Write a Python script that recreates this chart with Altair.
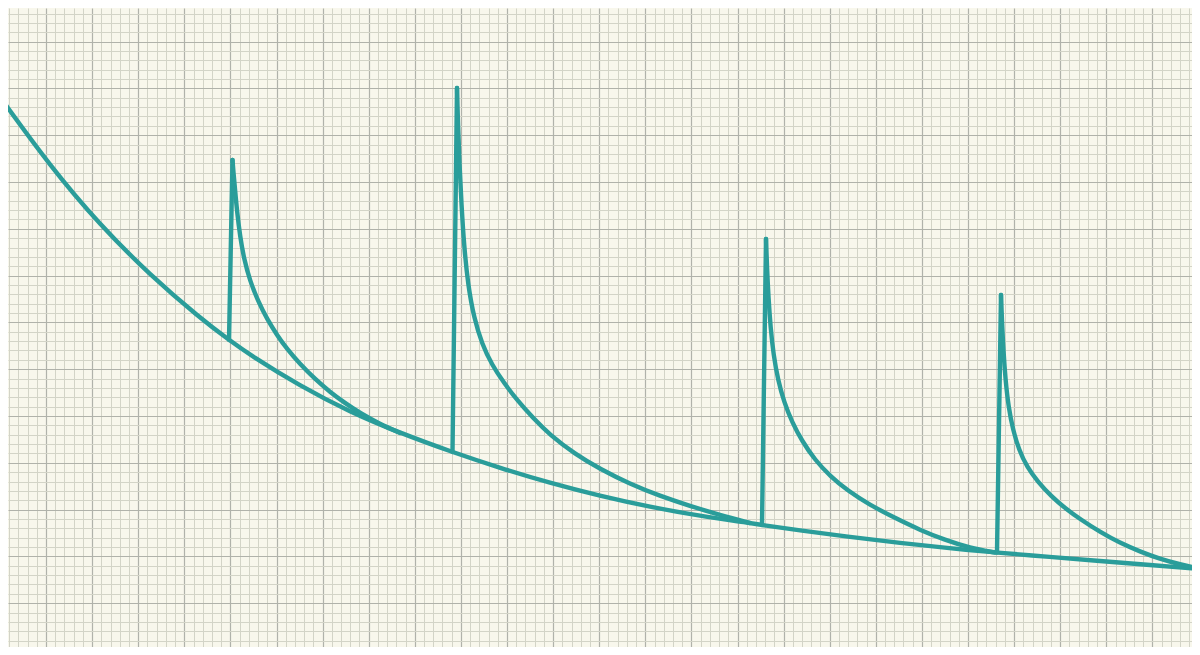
import altair as alt
import pandas as pd

# ---- values (x = time position, y = level) ----
main_t = [0, 50, 100, 150, 200, 229, 250, 300, 350, 400, 452, 500, 550, 600, 650,
          700, 750, 762, 800, 850, 900, 950, 997, 1050, 1100, 1150, 1200]
main_v = [558, 489, 430, 380, 337, 315, 300, 269, 243, 222, 203, 187, 172, 159, 148,
          139, 132, 130, 124.5, 118, 112, 106.6, 102.5, 98, 94, 90, 86]

rise_t = [[229, 232.5], [452.5, 457], [762, 766], [997, 1001]]
rise_v = [[315, 495], [203, 567], [130, 416], [102.5, 360]]

decay1_t = [232.5, 233.5, 235, 237, 240, 244, 250, 258, 267, 277, 287, 300, 315, 330, 345, 360, 380, 400]
decay1_v = [495, 482, 466, 444, 419, 396, 374, 354, 336, 320, 306, 291, 276, 263, 252, 242, 231, 222]

decay2_t = [457, 458, 459.5, 461.5, 464, 468, 474, 482, 492, 504, 517, 533, 550, 575, 600, 630, 660, 690, 720, 750]
decay2_v = [567, 530, 490, 450, 410, 370, 337, 311, 290, 272, 255, 237, 220, 201, 186, 171, 159, 149, 140, 132]

decay3_t = [766, 767, 768.5, 770.5, 773.5, 778, 784, 792, 802, 815, 830, 848, 870, 895, 920, 945, 970, 995]
decay3_v = [416, 387, 357, 328, 300, 275, 253, 233, 214, 195, 179, 164, 150, 137, 125, 115, 107, 102.5]

decay4_t = [1001, 1002, 1003.5, 1005.5, 1008.5, 1013, 1019, 1027, 1038, 1051, 1066, 1080, 1100, 1120, 1140, 1160, 1180, 1200]
decay4_v = [360, 333, 303, 275, 248, 225, 205, 188, 173, 159, 146, 136, 123, 112, 103.5, 96, 90.5, 86.5]

# ---- build tables ----
curve_rows = []
for name, ts, vs in [("main", main_t, main_v), ("decay1", decay1_t, decay1_v),
                     ("decay2", decay2_t, decay2_v), ("decay3", decay3_t, decay3_v),
                     ("decay4", decay4_t, decay4_v)]:
    for t, v in zip(ts, vs):
        curve_rows.append({"t": t, "v": v, "series": name})
curves = pd.DataFrame(curve_rows)

rise_rows = []
for i, (ts, vs) in enumerate(zip(rise_t, rise_v)):
    for t, v in zip(ts, vs):
        rise_rows.append({"t": t, "v": v, "series": f"rise{i+1}"})
rises = pd.DataFrame(rise_rows)

# graph-paper grid (minor every 1/5 of a major cell)
x_grid = [46 + 9.22 * k for k in range(-4, 125)]
y_grid = [613.4 - 9.36 * j for j in range(-3, 65)]

BG = "#f8f7ec"
MINOR = "#d3d4c7"
MAJOR = "#b0b2aa"
TEAL = "#2a9d9a"

XT = "abs(round((datum.value-46)/46.1) - (datum.value-46)/46.1) < 0.02"
YT = "abs(round((613.4-datum.value)/46.8) - (613.4-datum.value)/46.8) < 0.02"

x_axis = alt.Axis(
    values=x_grid, tickCount=1000, grid=True, labels=False, ticks=False, domain=False,
    title=None, gridOpacity=1,
    gridColor={"condition": {"test": XT, "value": MAJOR}, "value": MINOR},
    gridWidth={"condition": {"test": XT, "value": 1.2}, "value": 1},
)
y_axis = alt.Axis(
    values=y_grid, tickCount=1000, grid=True, labels=False, ticks=False, domain=False,
    title=None, gridOpacity=1,
    gridColor={"condition": {"test": YT, "value": MAJOR}, "value": MINOR},
    gridWidth={"condition": {"test": YT, "value": 1.2}, "value": 1},
)

xs = alt.Scale(domain=[8, 1192], nice=False, zero=False)
ys = alt.Scale(domain=[8, 647], nice=False, zero=False)

curve_layer = alt.Chart(curves).mark_line(
    interpolate="basis", color=TEAL, strokeWidth=4.4, strokeCap="round",
    strokeJoin="round", clip=True
).encode(
    x=alt.X("t:Q", scale=xs, axis=x_axis),
    y=alt.Y("v:Q", scale=ys, axis=y_axis),
    detail="series:N",
)

rise_layer = alt.Chart(rises).mark_line(
    color=TEAL, strokeWidth=4.4, strokeCap="round", strokeJoin="round", clip=True
).encode(
    x=alt.X("t:Q", scale=xs),
    y=alt.Y("v:Q", scale=ys),
    detail="series:N",
)

chart = alt.layer(curve_layer, rise_layer).properties(
    width=1184, height=639, padding=0, background=BG,
    autosize=alt.AutoSizeParams(type="none"),
).configure_view(strokeWidth=0, fill=BG)

chart.save("out.html", embed_options={"renderer": "svg", "actions": False})
